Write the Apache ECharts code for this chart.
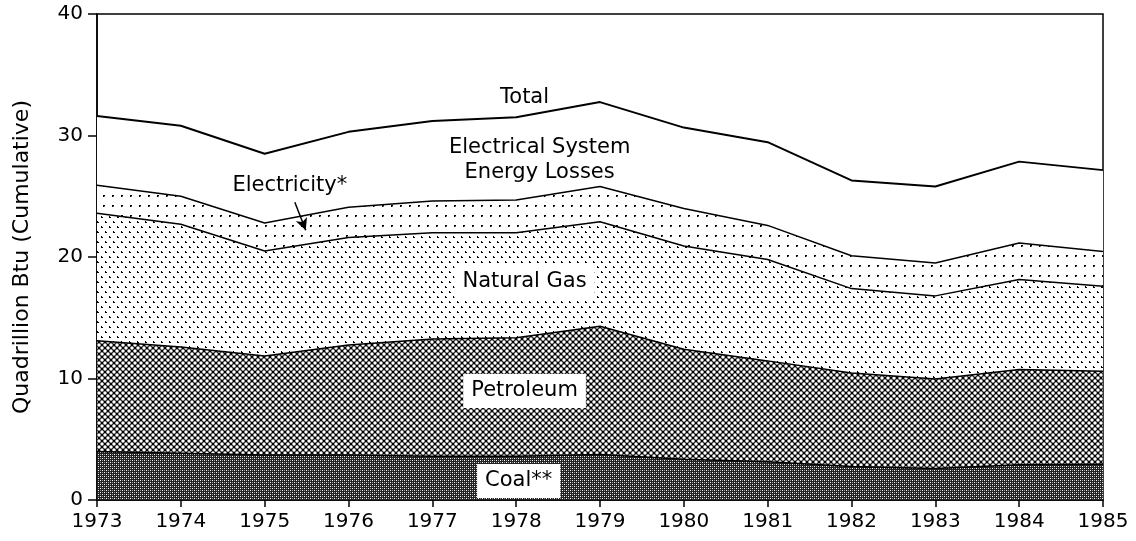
<!DOCTYPE html>
<html><head><meta charset="utf-8">
<script src="https://cdn.jsdelivr.net/npm/echarts@6/dist/echarts.min.js"></script>
<style>html,body{margin:0;padding:0;background:#fff}#c{width:1136px;height:541px}</style>
</head><body><div id="c"></div>
<script>
// Years (x axis)
const years = ['1973','1974','1975','1976','1977','1978','1979','1980','1981','1982','1983','1984','1985'];
// Quadrillion Btu per component (stacked)
const coal        = [4.0, 3.85, 3.7, 3.7, 3.6, 3.6, 3.75, 3.35, 3.15, 2.75, 2.6, 2.9, 2.95];
const petroleum   = [9.1, 8.75, 8.15, 9.05, 9.65, 9.75, 10.55, 9.05, 8.3, 7.7, 7.35, 7.85, 7.65];
const naturalGas  = [10.5, 10.1, 8.65, 8.85, 8.75, 8.65, 8.6, 8.5, 8.35, 6.95, 6.85, 7.4, 7.0];
const electricity = [2.3, 2.3, 2.3, 2.5, 2.6, 2.7, 2.9, 3.1, 2.8, 2.7, 2.7, 3.0, 2.85];
const losses      = [5.7, 5.8, 5.7, 6.2, 6.6, 6.8, 6.95, 6.65, 6.85, 6.2, 6.3, 6.7, 6.7];
const yTicks = [0, 10, 20, 30, 40];
const yTitle = 'Quadrillion Btu (Cumulative)';

function tile(w, h, bg, draw) {
  const c = document.createElement('canvas');
  c.width = w; c.height = h;
  const g = c.getContext('2d');
  g.fillStyle = bg; g.fillRect(0, 0, w, h);
  draw(g);
  return c;
}
const coalPat = tile(4, 4, '#222', g => {
  g.fillStyle = '#fff'; g.fillRect(0, 0, 1, 1); g.fillRect(2, 2, 1, 1);
  g.fillStyle = '#999'; g.fillRect(2, 0, 1, 1); g.fillRect(0, 2, 1, 1);
});
const petPat = tile(6, 6, '#000', g => {
  g.fillStyle = '#fff';
  [[0,0],[6,0],[0,6],[6,6],[3,3]].forEach(p => { g.beginPath(); g.arc(p[0], p[1], 1.75, 0, Math.PI * 2); g.fill(); });
});
const gasPat = tile(8, 10, '#fff', g => {
  g.fillStyle = '#000'; g.fillRect(1, 1, 2, 2); g.fillRect(5, 6, 2, 2);
  g.fillStyle = '#fff'; g.fillRect(2, 1, 1, 1); g.fillRect(6, 6, 1, 1);
});
const elecPat = tile(9, 10, '#fff', g => {
  g.fillStyle = '#000'; g.fillRect(4, 5, 2, 2);
  g.fillStyle = '#777'; g.fillRect(5, 6, 1, 1);
});

const FONT = 'DejaVu Sans';
function areaSeries(name, arr, pat, lw) {
  return {
    name, type: 'line', stack: 'total', data: arr, symbol: 'none', smooth: false,
    xAxisIndex: 0, yAxisIndex: 0,
    lineStyle: { color: '#000', width: lw },
    areaStyle: { color: pat ? { image: pat, repeat: 'repeat' } : '#fff', opacity: 1 },
    z: 2
  };
}

// annotation anchors in data space: [year, value]
const labelItems = [
  { value: [1978.1, 33.1], text: 'Total', box: false },
  { value: [1978.28, 28.0], text: 'Electrical System\nEnergy Losses', box: false },
  { value: [1975.3, 25.9], text: 'Electricity*', box: false },
  { value: [1978.1, 17.95], text: 'Natural Gas', box: true },
  { value: [1978.1, 8.97], text: 'Petroleum', box: true },
  { value: [1978.03, 1.56], text: 'Coal**', box: true }
];
const arrow = [[1975.36, 24.5], [1975.49, 22.2]];

const chart = echarts.init(document.getElementById('c'), null, { renderer: 'canvas' });
chart.setOption({
  animation: false,
  backgroundColor: '#fff',
  grid: { left: 97, right: 33, top: 14, bottom: 41, show: true, borderColor: '#000', borderWidth: 1.5, backgroundColor: 'transparent' },
  xAxis: [{
    type: 'category', data: years, boundaryGap: false,
    axisLine: { show: true, lineStyle: { color: '#000', width: 1.5 } },
    axisTick: { show: true, inside: false, length: 7, alignWithLabel: true, lineStyle: { color: '#000', width: 1.5 } },
    axisLabel: { color: '#000', fontFamily: FONT, fontSize: 20, margin: 12, interval: 0 },
    splitLine: { show: false }
  }, {
    type: 'value', min: 1973, max: 1985, show: false, position: 'bottom'
  }],
  yAxis: {
    type: 'value', min: yTicks[0], max: yTicks[yTicks.length - 1], interval: 10,
    name: yTitle, nameLocation: 'middle', nameGap: 64, nameRotate: 90,
    nameTextStyle: { color: '#000', fontFamily: FONT, fontSize: 22 },
    axisLine: { show: true, lineStyle: { color: '#000', width: 1.5 } },
    axisTick: { show: true, inside: false, length: 9, lineStyle: { color: '#000', width: 1.5 } },
    axisLabel: { color: '#000', fontFamily: FONT, fontSize: 20, margin: 14 },
    splitLine: { show: false }
  },
  series: [
    areaSeries('Coal**', coal, coalPat, 1.5),
    areaSeries('Petroleum', petroleum, petPat, 1.5),
    areaSeries('Natural Gas', naturalGas, gasPat, 1.5),
    areaSeries('Electricity*', electricity, elecPat, 1.5),
    areaSeries('Electrical System Energy Losses', losses, null, 2),
    {
      type: 'scatter', xAxisIndex: 1, yAxisIndex: 0, symbolSize: 1, z: 10, silent: true,
      itemStyle: { color: 'rgba(0,0,0,0)', opacity: 1 },
      data: labelItems.map(d => ({
        value: d.value,
        label: {
          show: true, position: 'inside', formatter: d.text, color: '#000', opacity: 1,
          fontFamily: FONT, fontSize: 21, lineHeight: 25, align: 'center',
          backgroundColor: d.box ? '#fff' : 'transparent',
          padding: d.box ? [5, 8, 4, 8] : 0
        }
      })),
      markLine: {
        silent: true, symbol: ['none', 'arrow'], symbolSize: [9, 12],
        lineStyle: { color: '#000', width: 1.5, type: 'solid', opacity: 1 },
        label: { show: false },
        data: [[{ coord: arrow[0] }, { coord: arrow[1] }]]
      }
    }
  ]
});
</script>
</body></html>
